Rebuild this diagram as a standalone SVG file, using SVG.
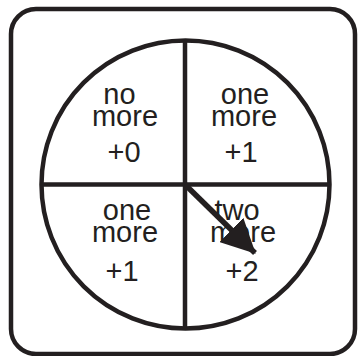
<svg xmlns="http://www.w3.org/2000/svg" width="359" height="356" viewBox="0 0 359 356">
  <style>
    .ln { fill: none; stroke: #231f20; stroke-width: 4.5; }
    .t { font-family: "Liberation Sans", Arial, Helvetica, sans-serif; font-size: 29px; fill: #231f20; text-anchor: middle; }
  </style>
  <defs>
    <marker id="head" markerUnits="userSpaceOnUse" viewBox="0 0 34 34" refX="33" refY="17" markerWidth="34" markerHeight="34" orient="auto">
      <path d="M0,0 L34,17 L0,34 Z" fill="#231f20"/>
    </marker>
  </defs>
  <rect id="frame" class="ln" x="11" y="9" width="344" height="345" rx="25" ry="25"/>
  <g id="spinner-face">
    <circle class="ln" cx="185.5" cy="184.5" r="144"/>
    <line class="ln" x1="185" y1="40" x2="185" y2="329"/>
    <line class="ln" x1="41" y1="184.5" x2="330" y2="184.5"/>
  </g>
  <g id="q-top-left">
    <text class="t" x="119.5" y="104">no</text>
    <text class="t" x="125" y="126">more</text>
    <text class="t" x="124" y="162">+0</text>
  </g>
  <g id="q-top-right">
    <text class="t" x="245" y="104">one</text>
    <text class="t" x="244" y="126">more</text>
    <text class="t" x="241" y="162">+1</text>
  </g>
  <g id="q-bottom-left">
    <text class="t" x="127" y="220">one</text>
    <text class="t" x="125" y="242">more</text>
    <text class="t" x="122" y="281">+1</text>
  </g>
  <g id="q-bottom-right">
    <text class="t" x="237" y="220">two</text>
    <text class="t" x="243" y="242">more</text>
    <text class="t" x="242" y="281">+2</text>
  </g>
  <g id="connectors">
    <line x1="185" y1="184.5" x2="255" y2="253" stroke="#231f20" stroke-width="5.5" marker-end="url(#head)"/>
  </g>
</svg>
